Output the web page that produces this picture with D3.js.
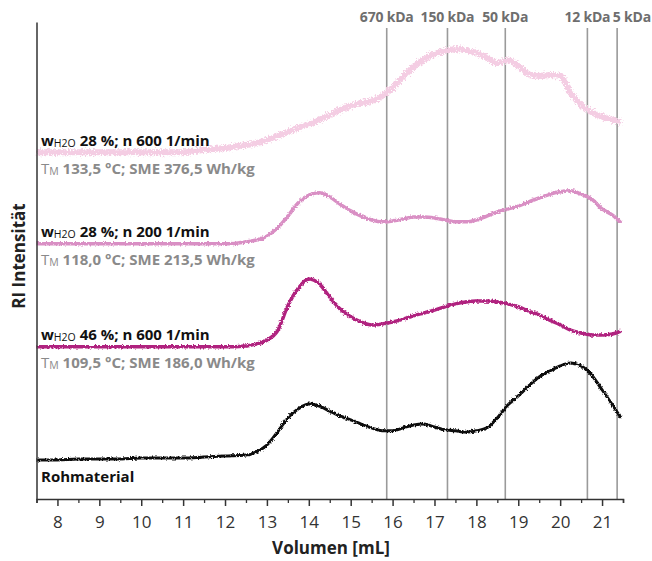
<!DOCTYPE html>
<html>
<head>
<meta charset="utf-8">
<script src="https://cdn.jsdelivr.net/npm/d3@7"></script>
<style>
  body { margin: 0; background: #fff; }
  svg { display: block; font-family: 'Open Sans', sans-serif; }
</style>
</head>
<body>
<div id="chart"></div>
<script>
// elution volume (mL), shared by all traces
const volume = [7.5, 8, 8.5, 9, 9.5, 10, 10.5, 11, 11.5, 12, 12.5,
  12.75, 13, 13.25, 13.5, 13.75, 14, 14.25, 14.5, 14.75, 15, 15.25, 15.5, 15.75,
  16, 16.25, 16.5, 16.75, 17, 17.25, 17.5, 17.75, 18, 18.25, 18.5, 18.75,
  19, 19.25, 19.5, 19.75, 20, 20.25, 20.5, 20.75, 21, 21.25, 21.45];

// RI signal (arbitrary units, traces stacked with offsets)
const rohmaterial = [8.2, 8.2, 8.4, 8.4, 8.4, 8.6, 8.6, 8.6, 8.8, 9.0, 9.2,
  9.9, 11.3, 14.0, 17.0, 18.9, 19.9, 19.5, 18.4, 17.4, 16.6, 15.7, 14.9, 14.3,
  14.3, 14.9, 15.5, 15.7, 15.1, 14.5, 14.3, 14.0, 14.3, 14.9, 17.0, 19.7,
  21.6, 23.7, 25.6, 26.8, 27.9, 28.5, 27.9, 26.0, 22.9, 19.7, 17.0];
const w46n600 = [31.9, 31.9, 31.9, 31.9, 31.9, 31.9, 31.9, 31.9, 31.9, 31.9, 32.1,
  32.5, 33.3, 35.2, 40.5, 44.2, 46.1, 45.1, 42.3, 39.8, 38.2, 37.1, 36.5, 36.7,
  37.1, 37.7, 38.4, 39.0, 39.6, 40.3, 40.9, 41.3, 41.5, 41.5, 41.3, 40.9,
  40.3, 39.4, 38.6, 37.5, 36.5, 35.4, 34.8, 34.4, 34.4, 34.6, 35.2];
const w28n200 = [53.5, 53.5, 53.5, 53.5, 53.5, 53.5, 53.5, 53.5, 53.5, 53.5, 53.9,
  54.3, 55.1, 56.8, 59.3, 62.1, 63.7, 64.2, 63.3, 61.8, 60.4, 59.3, 58.5, 58.1,
  58.3, 58.7, 59.1, 59.1, 58.9, 58.5, 58.1, 58.1, 58.5, 59.3, 60.2, 60.8,
  61.4, 62.3, 63.1, 63.9, 64.4, 64.6, 63.9, 62.9, 60.8, 59.5, 57.9];
const w28n600 = [72.7, 72.7, 72.7, 72.7, 72.7, 72.7, 72.7, 72.7, 73.2, 73.6, 74.2,
  74.6, 75.3, 76.1, 76.9, 77.8, 78.6, 79.5, 80.5, 81.6, 82.4, 83.0, 83.4, 84.5,
  86.2, 88.5, 90.6, 92.2, 93.3, 93.9, 94.3, 94.1, 93.5, 92.5, 91.4, 92.0,
  90.8, 89.1, 88.7, 88.9, 88.7, 85.1, 82.6, 81.1, 80.1, 79.5, 79.0];

// calibration markers
const kdaLabels = ['670 kDa', '150 kDa', '50 kDa', '12 kDa', '5 kDa'];
const kdaVolume = [15.86, 17.31, 18.69, 20.65, 21.36];

// sample annotations
const waterContent = ['28 %; n 600 1/min', '28 %; n 200 1/min', '46 %; n 600 1/min'];
const processData = ['133,5 °C; SME 376,5 Wh/kg', '118,0 °C; SME 213,5 Wh/kg', '109,5 °C; SME 186,0 Wh/kg'];

const xTicks = [8, 9, 10, 11, 12, 13, 14, 15, 16, 17, 18, 19, 20, 21];

const width = 652, height = 561;
const svg = d3.select('#chart').append('svg')
  .attr('width', width)
  .attr('height', height);

const x = d3.scaleLinear().domain([7.5, 21.5]).range([36.5, 623]);
const y = d3.scaleLinear().domain([0, 100]).range([499, 22]);

// noise texture for the traces
const defs = svg.append('defs');
function noiseFilter(id, amount, freq, seed) {
  const f = defs.append('filter').attr('id', id)
    .attr('x', '-5%').attr('y', '-30%').attr('width', '110%').attr('height', '160%');
  f.append('feTurbulence').attr('type', 'fractalNoise')
    .attr('baseFrequency', freq).attr('numOctaves', 2).attr('seed', seed).attr('result', 'n');
  f.append('feDisplacementMap').attr('in', 'SourceGraphic').attr('in2', 'n')
    .attr('scale', amount).attr('xChannelSelector', 'R').attr('yChannelSelector', 'G');
}
noiseFilter('noiseBig', 7, '0.6 0.6', 2);
noiseFilter('noiseSmall', 3.5, '0.6 0.6', 5);

// marker lines
svg.append('g').selectAll('line')
  .data(kdaVolume)
  .enter().append('line')
  .attr('x1', d => x(d)).attr('x2', d => x(d))
  .attr('y1', 28).attr('y2', y(0))
  .attr('stroke', '#9a9a9a')
  .attr('stroke-width', 1.6);

svg.append('g').selectAll('text')
  .data(kdaLabels)
  .enter().append('text')
  .attr('x', (d, i) => i === kdaLabels.length - 1 ? width - 1 : x(kdaVolume[i]))
  .attr('y', 22)
  .attr('text-anchor', (d, i) => i === kdaLabels.length - 1 ? 'end' : 'middle')
  .style('font-size', '14px')
  .style('font-weight', 700)
  .style('letter-spacing', '-0.2px')
  .style('fill', '#6e6e6e')
  .text(d => d);

// traces
const series = [
  { values: w28n600, color: '#f4cde3', width: 6, filter: 'noiseBig' },
  { values: w28n200, color: '#d98fc4', width: 3.5, filter: 'noiseSmall' },
  { values: w46n600, color: '#b0217f', width: 3.5, filter: 'noiseSmall' },
  { values: rohmaterial, color: '#111111', width: 3, filter: 'noiseSmall' }
];

const line = d3.line()
  .x((d, i) => x(volume[i]))
  .y(d => y(d))
  .curve(d3.curveMonotoneX);

svg.append('g').selectAll('path')
  .data(series)
  .enter().append('path')
  .attr('d', d => line(d.values))
  .attr('fill', 'none')
  .attr('stroke', d => d.color)
  .attr('stroke-width', d => d.width)
  .attr('stroke-linejoin', 'round')
  .attr('filter', d => 'url(#' + d.filter + ')');

// axes
const xAxis = svg.append('g')
  .attr('transform', 'translate(0,' + y(0) + ')')
  .call(d3.axisBottom(x).tickValues(xTicks).tickSize(7).tickSizeOuter(4).tickPadding(10).tickFormat(d3.format('d')));
xAxis.select('.domain').attr('stroke', '#333').attr('stroke-width', 1.5);
xAxis.selectAll('.tick line').attr('stroke', '#333').attr('stroke-width', 1.5);
xAxis.selectAll('.tick text')
  .style('font-family', "'Open Sans', sans-serif")
  .style('font-size', '17px')
  .style('fill', '#333');

const minor = svg.append('g')
  .attr('transform', 'translate(0,' + y(0) + ')')
  .call(d3.axisBottom(x).tickValues(xTicks.map(d => d - 0.5).concat([21.5])).tickSize(4).tickSizeOuter(0).tickFormat(''));
minor.select('.domain').remove();
minor.selectAll('.tick line').attr('stroke', '#333').attr('stroke-width', 1.3);

const yAxis = svg.append('g')
  .attr('transform', 'translate(' + x(7.5) + ',0)')
  .call(d3.axisLeft(y).ticks(0).tickSizeOuter(0));
yAxis.select('.domain').attr('stroke', '#333').attr('stroke-width', 1.5);

svg.append('text')
  .attr('x', 331).attr('y', 554)
  .attr('text-anchor', 'middle')
  .style('font-size', '17px').style('font-weight', 700).style('fill', '#222')
  .text('Volumen [mL]');

svg.append('text')
  .attr('transform', 'translate(25,256) rotate(-90)')
  .attr('text-anchor', 'middle')
  .style('font-size', '17px').style('font-weight', 700).style('fill', '#222')
  .text('RI Intensität');

// annotations next to the traces
const labelSets = [w28n600, w28n200, w46n600];
labelSets.forEach((vals, i) => {
  const base = y(vals[0]) - 6.5;
  const t1 = svg.append('text').attr('x', 41).attr('y', base)
    .style('font-size', '15px').style('font-weight', 700).style('fill', '#111');
  t1.append('tspan').text('w');
  t1.append('tspan').attr('dy', 1).style('font-size', '10.5px').style('font-weight', 400).text('H2O');
  t1.append('tspan').attr('dy', -1).text(' ' + waterContent[i]);

  const t2 = svg.append('text').attr('x', 41).attr('y', base + 28)
    .style('font-size', '15px').style('font-weight', 700).style('fill', '#8a8a8a');
  t2.append('tspan').style('font-weight', 400).text('T');
  t2.append('tspan').attr('dy', 1).style('font-size', '10.5px').style('font-weight', 400).text('M');
  t2.append('tspan').attr('dy', -1).text(' ' + processData[i]);
});

svg.append('text')
  .attr('x', 41).attr('y', y(rohmaterial[0]) + 22)
  .style('font-size', '15px').style('font-weight', 700).style('fill', '#111')
  .text('Rohmaterial');
</script>
</body>
</html>
